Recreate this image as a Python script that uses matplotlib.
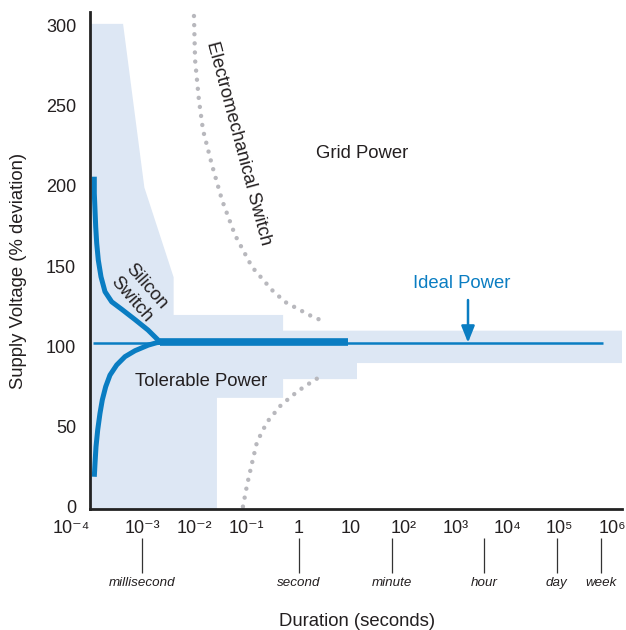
import matplotlib
matplotlib.use("Agg")
import matplotlib.pyplot as plt
from matplotlib.patches import Polygon

plt.rcParams['font.family'] = ['Liberation Sans', 'DejaVu Sans']

# ---------------- data ----------------
XMIN, XMAX = 1e-4, 1.55e6
YMIN, YMAX = -1.5, 308.4

decade_ticks = [1e-4, 1e-3, 1e-2, 1e-1, 1, 10, 1e2, 1e3, 1e4, 1e5, 1e6]
decade_labels = ['10⁻⁴', '10⁻³', '10⁻²', '10⁻¹', '1', '10',
                 '10²', '10³', '10⁴', '10⁵', '10⁶']
y_ticks = [0, 50, 100, 150, 200, 250, 300]

time_ticks = [1e-3, 1, 60, 3600, 86400, 604800]
time_labels = ['millisecond', 'second', 'minute', 'hour', 'day', 'week']

# tolerable power envelope
band_upper_x = [1e-4, 4.3e-4, 1.1e-3, 4.0e-3, 4.0e-3, 0.5, 0.5, XMAX]
band_upper_y = [301, 301, 199, 143, 119.5, 119.5, 109.7, 109.7]
band_lower_x = [XMAX, 13, 13, 0.5, 0.5, 0.027, 0.027, 1e-4]
band_lower_y = [89.5, 89.5, 79.5, 79.5, 67.8, 67.8, YMIN, YMIN]

# ideal power
ideal_x = [1.15e-4, 6.8e5]
ideal_y = [102.2, 102.2]

# silicon switch
si_thick_x = [2.19e-3, 8.8]
si_thick_y = [102.4, 102.4]
si_upper_x = [1.209e-4, 1.209e-4, 1.247e-4, 1.286e-4, 1.344e-4, 1.442e-4, 1.624e-4,
              1.938e-4, 2.604e-4, 4.10e-4, 7.28e-4, 1.29e-3, 2.01e-3, 2.19e-3]
si_upper_y = [205.7, 195.3, 184.9, 174.5, 164.2, 153.7, 143.3,
              134.0, 127.7, 122.9, 116.6, 110.1, 103.9, 102.4]
si_lower_x = [2.19e-3, 1.896e-3, 1.309e-3, 7.28e-4, 4.68e-4, 3.246e-4, 2.415e-4,
              1.999e-4, 1.720e-4, 1.554e-4, 1.404e-4, 1.303e-4, 1.247e-4, 1.209e-4]
si_lower_y = [102.4, 102.2, 100.7, 97.2, 93.5, 88.3, 82.0,
              74.8, 66.5, 58.2, 47.8, 37.3, 27.0, 18.6]

# electromechanical switch
em_upper_x = [9.8e-3, 1.03e-2, 1.22e-2, 1.46e-2, 2.17e-2, 3.38e-2, 6.0e-2, 0.127, 0.307,
              0.545, 1.05, 2.04, 3.47]
em_upper_y = [305.9, 278.4, 253.5, 234.8, 213.0, 191.1, 169.3, 149.4, 135.0,
              127.6, 122.6, 117.6, 115.1]
em_lower_x = [8.5e-2, 0.102, 0.127, 0.158, 0.246, 0.456, 0.966, 2.14, 2.91]
em_lower_y = [0, 13.5, 27.2, 40.3, 52.7, 63.3, 72.1, 79.6, 80.8]

# annotation arrow (Ideal Power)
arrow_x = 1740
arrow_from_y = 128.8
arrow_to_y = 102.2

# ---------------- style ----------------
BLUE = '#0a7dc2'
SHADE = '#dde7f4'
DOTS = '#b8b8bd'
TXT = '#231f20'

fig = plt.figure(figsize=(6.26, 6.30), dpi=100)
ax = fig.add_axes([90 / 626, 121 / 630, 532 / 626, 497 / 630])
ax.set_xscale('log')
ax.set_xlim(XMIN, XMAX)
ax.set_ylim(YMIN, YMAX)

# band
poly_pts = list(zip(band_upper_x + band_lower_x, band_upper_y + band_lower_y))
ax.add_patch(Polygon(poly_pts, closed=True, facecolor=SHADE, edgecolor='none', zorder=1))

# electromechanical dots
for xs, ys in [(em_upper_x, em_upper_y), (em_lower_x, em_lower_y)]:
    ax.plot(xs, ys, color=DOTS, lw=3.2, linestyle=(0, (0.001, 2.05)),
            dash_capstyle='round', zorder=2)

# ideal line
ax.plot(ideal_x, ideal_y, color=BLUE, lw=1.8, solid_capstyle='butt', zorder=3)
# silicon switch
ax.plot(si_thick_x, si_thick_y, color=BLUE, lw=5.5, solid_capstyle='butt', zorder=4)
ax.plot(si_upper_x, si_upper_y, color=BLUE, lw=3.6, solid_capstyle='butt',
        solid_joinstyle='round', zorder=4)
ax.plot(si_lower_x, si_lower_y, color=BLUE, lw=3.6, solid_capstyle='butt',
        solid_joinstyle='round', zorder=4)

# arrow
ax.annotate('', xy=(arrow_x, arrow_to_y), xytext=(arrow_x, arrow_from_y),
            arrowprops=dict(arrowstyle='-|>,head_length=1.0,head_width=0.4',
                            color=BLUE, lw=1.8, shrinkA=0, shrinkB=0), zorder=5)

# texts
FS = 13.3
ax.text(16.3, 220.4, 'Grid Power', fontsize=FS, color=TXT, ha='center', va='center')
ax.text(0.0134, 78.3, 'Tolerable Power', fontsize=FS, color=TXT, ha='center', va='center')
ax.text(1340, 138.8, 'Ideal Power', fontsize=FS, color=BLUE, ha='center', va='center')
ax.text(0.0714, 226.7, 'Electromechanical Switch', fontsize=FS, color=TXT,
        ha='center', va='center', rotation=-75, rotation_mode='anchor')
ax.text(8.6e-4, 133.0, 'Silicon\nSwitch', fontsize=FS, color=TXT, ha='center',
        va='center', multialignment='center', rotation=-49, rotation_mode='anchor',
        linespacing=1.25)

# axes styling
for s in ['top', 'right']:
    ax.spines[s].set_visible(False)
for s in ['left', 'bottom']:
    ax.spines[s].set_linewidth(2.0)
    ax.spines[s].set_color('#222222')
    ax.spines[s].set_zorder(6)

ax.set_xticks(decade_ticks)
ax.set_xticklabels(decade_labels)
ax.xaxis.set_minor_locator(matplotlib.ticker.NullLocator())
ax.set_yticks(y_ticks)
ax.tick_params(axis='both', length=0, labelsize=13, colors=TXT)
ax.tick_params(axis='y', pad=10)
ax.tick_params(axis='x', pad=8)
ax.get_xticklabels()[0].set_horizontalalignment('right')

ax.set_ylabel('Supply Voltage (% deviation)', fontsize=FS, color=TXT)
ax.yaxis.set_label_coords(-0.118, 0.479)
ax.set_xlabel('Duration (seconds)', fontsize=FS, color=TXT)
ax.xaxis.set_label_coords(0.502, -0.209)

# time-unit ticks
sec = ax.secondary_xaxis(-29 / 497)
sec.set_xticks(time_ticks)
sec.set_xticklabels(time_labels, fontstyle='italic', fontsize=9.6, color=TXT)
sec.xaxis.set_minor_locator(matplotlib.ticker.NullLocator())
sec.tick_params(axis='x', direction='out', length=25, width=0.9, color='#333333', pad=3)
sec.spines['bottom'].set_visible(False)

fig.savefig('out.png', dpi=100)
